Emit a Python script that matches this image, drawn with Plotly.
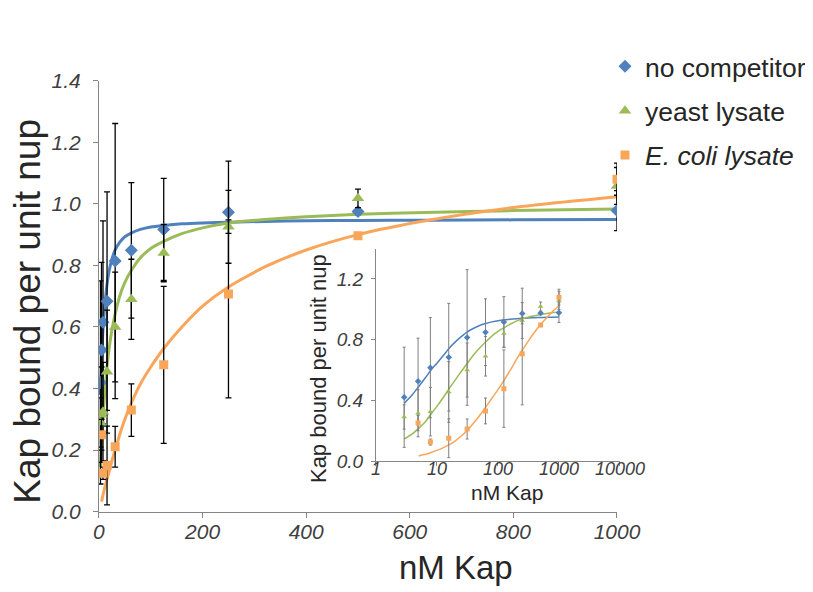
import plotly.graph_objects as go

# measured points (nM Kap)
conc = [2.9, 4.9, 7.8, 15.6, 31.25, 62.5, 125, 250, 500, 1000]

no_comp = [0.42, 0.525, 0.615, 0.684, 0.814, 0.849, 0.917, 0.973, 0.975, 0.978]
no_comp_err = [0.33, 0.285, 0.33, 0.355, 0.447, 0.22, 0.166, 0.166, 0.01, 0.065]

yeast = [0.29, 0.315, 0.325, 0.455, 0.60, 0.69, 0.84, 0.926, 1.018, 1.058]
yeast_err = [0.08, 0.155, 0.16, 0.2, 0.178, 0.13, 0.093, 0.022, 0.03, 0.06]

ecoli_conc = [4.9, 7.8, 15.6, 31.25, 62.5, 125, 250, 500, 1000]
ecoli = [0.25, 0.125, 0.15, 0.211, 0.33, 0.477, 0.707, 0.896, 1.08]
ecoli_err = [0.05, 0.02, 0.128, 0.066, 0.085, 0.255, 0.337, 0.01, 0.052]

# fitted curves
fit_conc = [2.9, 4, 5, 6.5, 8, 10, 13, 16, 20, 25, 31, 40, 50, 63, 80, 100,
            125, 160, 200, 250, 320, 400, 500, 630, 800, 1000]
fit_no_comp = [0.38, 0.44, 0.49, 0.55, 0.6, 0.645, 0.70, 0.745, 0.785, 0.82, 0.85,
               0.875, 0.893, 0.906, 0.917, 0.925, 0.93, 0.935, 0.938, 0.94, 0.943,
               0.945, 0.946, 0.947, 0.948, 0.949]
fit_yeast = [0.145, 0.18, 0.215, 0.26, 0.31, 0.36, 0.425, 0.48, 0.535, 0.59, 0.64,
             0.70, 0.745, 0.785, 0.825, 0.855, 0.878, 0.903, 0.922, 0.938, 0.949,
             0.958, 0.966, 0.972, 0.978, 0.983]
fit_ecoli_conc = fit_conc[2:]
fit_ecoli = [0.033, 0.044, 0.056, 0.07, 0.09, 0.108, 0.133, 0.165, 0.2, 0.25, 0.3,
             0.355, 0.415, 0.47, 0.53, 0.6, 0.668, 0.73, 0.795, 0.85, 0.9,
             0.945, 0.988, 1.023]

series = [
    ('no competitor', conc, no_comp, no_comp_err, fit_conc, fit_no_comp, '#4F81BD', 'diamond', 10),
    ('yeast lysate', conc, yeast, yeast_err, fit_conc, fit_yeast, '#9BBB59', 'triangle-up', 11),
    ('<i>E. coli lysate</i>', ecoli_conc, ecoli, ecoli_err, fit_ecoli_conc, fit_ecoli, '#F9A65A', 'square', 9),
]

AXIS_GREY = '#868686'
TEXT = '#262626'
TICK_TEXT = '#404040'
FONT = 'Liberation Sans, Arial, sans-serif'

fig = go.Figure()

# curves first, then points
for name, x, y, err, fx, fy, color, symbol, size in series:
    fig.add_trace(go.Scatter(x=fx, y=fy, mode='lines', line=dict(color=color, width=3, shape='spline', smoothing=0.6),
                             showlegend=False, hoverinfo='skip', xaxis='x', yaxis='y'))
    fig.add_trace(go.Scatter(x=fx, y=fy, mode='lines', line=dict(color=color, width=1.5, shape='spline', smoothing=0.6),
                             showlegend=False, hoverinfo='skip', xaxis='x2', yaxis='y2'))

for i, (name, x, y, err, fx, fy, color, symbol, size) in enumerate(series):
    fig.add_trace(go.Scatter(
        x=x, y=y, mode='markers', name=name, legendgroup=str(i),
        marker=dict(color=color, symbol=symbol, size=size),
        error_y=dict(type='data', array=err, visible=True, color='black', thickness=1.3, width=3),
        xaxis='x', yaxis='y'))
    fig.add_trace(go.Scatter(
        x=x, y=y, mode='markers', showlegend=False,
        marker=dict(color=color, symbol=symbol, size=5),
        error_y=dict(type='data', array=err, visible=True, color='#7f7f7f', thickness=1, width=1.5),
        xaxis='x2', yaxis='y2'))

axis_common = dict(showline=True, linecolor=AXIS_GREY, linewidth=1, ticks='outside',
                   tickcolor=AXIS_GREY, showgrid=False, zeroline=False, automargin=False)

# the page adds an 8px body margin, so the figure is 8px smaller than the window
fig.update_layout(
    width=805, height=584,
    margin=dict(l=0, r=0, t=0, b=0, autoexpand=False),
    plot_bgcolor='white', paper_bgcolor='white',
    font=dict(family=FONT, color=TEXT),
    xaxis=dict(domain=[0.1130, 0.7565], range=[0, 1000], tickvals=[0, 200, 400, 600, 800, 1000],
               tickfont=dict(size=21, style='italic', color=TICK_TEXT), ticklen=5, ticklabelstandoff=-4,
               anchor='y', **axis_common),
    yaxis=dict(domain=[0.1375, 0.8755], range=[0, 1.4], dtick=0.2, tickformat='.1f',
               tickfont=dict(size=21, style='italic', color=TICK_TEXT), ticklen=5, ticklabelstandoff=8,
               anchor='x', **axis_common),
    xaxis2=dict(domain=[0.4571, 0.7602], type='log', range=[0, 4],
                tickvals=[1, 10, 100, 1000, 10000], ticktext=['1', '10', '100', '1000', '10000'],
                tickfont=dict(size=18, style='italic', color=TICK_TEXT), ticklen=4, ticklabelstandoff=-13,
                anchor='y2', **axis_common),
    yaxis2=dict(domain=[0.2243, 0.5880], range=[0, 1.4], tickvals=[0, 0.4, 0.8, 1.2], tickformat='.1f',
                tickfont=dict(size=19, style='italic', color=TICK_TEXT), ticklen=4, ticklabelstandoff=4,
                anchor='x2', **axis_common),
    legend=dict(x=0.7416, y=0.941, xanchor='left', yanchor='top', font=dict(size=26.5, color=TEXT),
                tracegroupgap=7, itemwidth=30, bgcolor='rgba(0,0,0,0)'),
    annotations=[
        dict(text='nM Kap', x=0.5565, y=0.0411, xref='paper', yref='paper', showarrow=False,
             font=dict(size=33, color=TEXT), xanchor='center', yanchor='middle'),
        dict(text='Kap bound per unit nup', x=0.0245, y=0.4812, xref='paper', yref='paper', showarrow=False,
             textangle=-90, font=dict(size=37, color=TEXT), xanchor='center', yanchor='middle'),
        dict(text='nM Kap', x=0.6199, y=0.1712, xref='paper', yref='paper', showarrow=False,
             font=dict(size=21, color=TEXT), xanchor='center', yanchor='middle'),
        dict(text='Kap bound per unit nup', x=0.3851, y=0.3818, xref='paper', yref='paper', showarrow=False,
             textangle=-90, font=dict(size=22, color=TEXT), xanchor='center', yanchor='middle'),
    ],
)

fig.write_html("out.html")
